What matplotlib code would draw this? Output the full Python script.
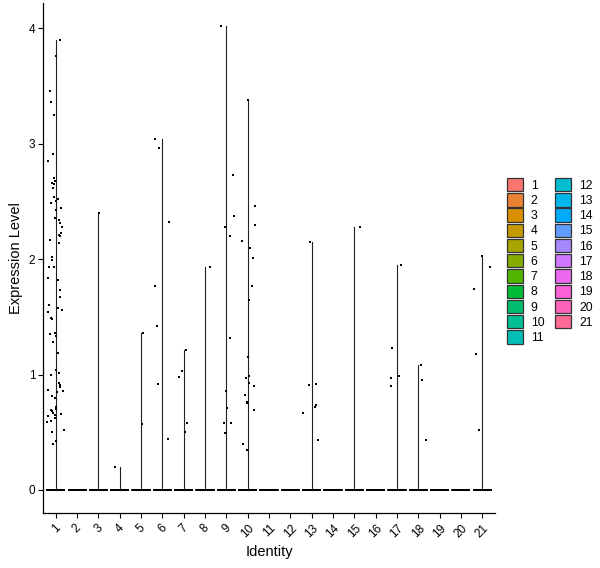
import numpy as np
import matplotlib
matplotlib.use("Agg")
import matplotlib.pyplot as plt
from matplotlib.patches import Patch

plt.rcParams['font.family'] = ['Liberation Sans', 'DejaVu Sans']

# ---------------- data ----------------
clusters = [str(i) for i in range(1, 22)]
# number of cells with zero expression per cluster (estimated)
n_zero = [1600, 1200, 1000, 900, 800, 700, 650, 600, 500, 450, 400,
          350, 300, 250, 200, 180, 150, 120, 100, 80, 60]
# non-zero expression values
nz_1 = [3.90, 3.76, 3.46, 3.36, 3.25, 2.91, 2.85, 2.70, 2.68, 2.66, 2.65, 2.62,
        2.54, 2.52, 2.50, 2.49, 2.44, 2.43, 2.36, 2.34, 2.31, 2.28, 2.23, 2.21,
        2.20, 2.17, 2.14, 2.02, 1.99, 1.93, 1.93, 1.84, 1.82, 1.73, 1.67, 1.60,
        1.58, 1.56, 1.54, 1.49, 1.48, 1.36, 1.35, 1.33, 1.28, 1.19, 1.04, 1.01,
        1.00, 0.93, 0.91, 0.89, 0.87, 0.86, 0.85, 0.81, 0.80, 0.72, 0.70, 0.69,
        0.68, 0.67, 0.66, 0.65, 0.64, 0.62, 0.60, 0.59, 0.52, 0.50, 0.42, 0.40]
nz_2 = []
nz_3 = [2.40]
nz_4 = [0.20]
nz_5 = [1.36, 0.57]
nz_6 = [3.04, 2.96, 2.32, 1.77, 1.42, 0.92, 0.44]
nz_7 = [1.21, 1.03, 0.98, 0.58, 0.50]
nz_8 = [1.93]
nz_9 = [4.02, 2.73, 2.37, 2.28, 2.20, 1.32, 0.86, 0.86, 0.71, 0.58, 0.58, 0.49, 0.49]
nz_10 = [3.38, 2.46, 2.30, 2.16, 2.10, 2.01, 1.77, 1.65, 1.15, 0.99, 0.97, 0.93,
         0.90, 0.82, 0.76, 0.75, 0.69, 0.40, 0.35]
nz_11 = []
nz_12 = []
nz_13 = [2.15, 0.92, 0.91, 0.74, 0.72, 0.67, 0.43]
nz_14 = []
nz_15 = [2.28]
nz_16 = []
nz_17 = [1.95, 1.23, 0.99, 0.97, 0.90]
nz_18 = [1.08, 0.95, 0.43]
nz_19 = []
nz_20 = []
nz_21 = [2.03, 1.93, 1.74, 1.18, 0.52]
nonzero = [nz_1, nz_2, nz_3, nz_4, nz_5, nz_6, nz_7, nz_8, nz_9, nz_10, nz_11,
           nz_12, nz_13, nz_14, nz_15, nz_16, nz_17, nz_18, nz_19, nz_20, nz_21]
y_ticks = [0, 1, 2, 3, 4]


# ---------------- ggplot hue palette ----------------
def hcl_to_hex(h, c=100.0, l=65.0):
    hr = np.deg2rad(h)
    u, v = c * np.cos(hr), c * np.sin(hr)
    Y = ((l + 16) / 116) ** 3
    Xn, Yn, Zn = 0.95047, 1.0, 1.08883
    den = Xn + 15 * Yn + 3 * Zn
    un, vn = 4 * Xn / den, 9 * Yn / den
    up = u / (13 * l) + un
    vp = v / (13 * l) + vn
    X = 9 * Y * up / (4 * vp)
    Z = Y * (12 - 3 * up - 20 * vp) / (4 * vp)
    r = 3.2404542 * X - 1.5371385 * Y - 0.4985314 * Z
    g = -0.9692660 * X + 1.8760108 * Y + 0.0415560 * Z
    b = 0.0556434 * X - 0.2040259 * Y + 1.0572252 * Z
    out = []
    for ch in (r, g, b):
        ch = 12.92 * ch if ch <= 0.0031308 else 1.055 * ch ** (1 / 2.4) - 0.055
        out.append(min(max(ch, 0.0), 1.0))
    return matplotlib.colors.to_hex(out)


hues = np.linspace(15, 375, len(clusters) + 1)[:-1]
colors = [hcl_to_hex(h) for h in hues]

# ---------------- figure ----------------
W, H = 600, 568
fig = plt.figure(figsize=(W / 100, H / 100), dpi=100)
ax = fig.add_axes([43 / W, 1 - 513 / H, (495 - 43) / W, (513 - 3) / H])

rng = np.random.default_rng(7)
for i, (nzc, zc) in enumerate(zip(nonzero, n_zero)):
    x = i + 1
    vals = np.array([0.0] * zc + list(nzc))
    vmin, vmax = vals.min(), vals.max()
    # violin (degenerate: width 0.9 at zero, thin line up to max)
    ax.plot([x - 0.45, x + 0.45], [vmin, vmin], color='#222222', lw=1.4, zorder=2,
            solid_capstyle='butt')
    if vmax > vmin:
        ax.plot([x, x], [vmin, vmax], color='#222222', lw=0.8, zorder=2)
    # jittered points
    jit = rng.uniform(-0.4, 0.4, size=len(vals))
    ax.scatter(x + jit, vals, s=4.0, marker='s', color='black', linewidths=0, zorder=3)

ax.set_xlim(0.4, 21.6)
ax.set_ylim(-0.2, 4.22)
ax.set_xticks(range(1, len(clusters) + 1))
ax.set_xticklabels(clusters, rotation=45, ha='center', va='top', fontsize=8.5)
ax.set_yticks(y_ticks)
ax.set_yticklabels([str(t) for t in y_ticks], fontsize=8.5)
ax.tick_params(axis='both', length=3.5, width=0.8, color='black', labelcolor='black')
ax.tick_params(axis='x', pad=3)
ax.tick_params(axis='y', pad=2)
for s in ['top', 'right']:
    ax.spines[s].set_visible(False)
for s in ['left', 'bottom']:
    ax.spines[s].set_linewidth(0.9)
    ax.spines[s].set_color('black')

ax.set_xlabel('Identity', fontsize=10.5, labelpad=4)
ax.set_ylabel('Expression Level', fontsize=10.5, labelpad=4)

handles = [Patch(facecolor=c, edgecolor='#333333', linewidth=0.9, label=l)
           for c, l in zip(colors, clusters)]
fig.legend(handles=handles, ncol=2, loc='upper left',
           bbox_to_anchor=(507 / W, 1 - 178 / H), frameon=False,
           fontsize=8.8, handlelength=1.3, handleheight=1.3,
           labelspacing=0.12, handletextpad=0.65, columnspacing=0.9,
           borderpad=0, borderaxespad=0)

fig.savefig('out.png', dpi=100)
